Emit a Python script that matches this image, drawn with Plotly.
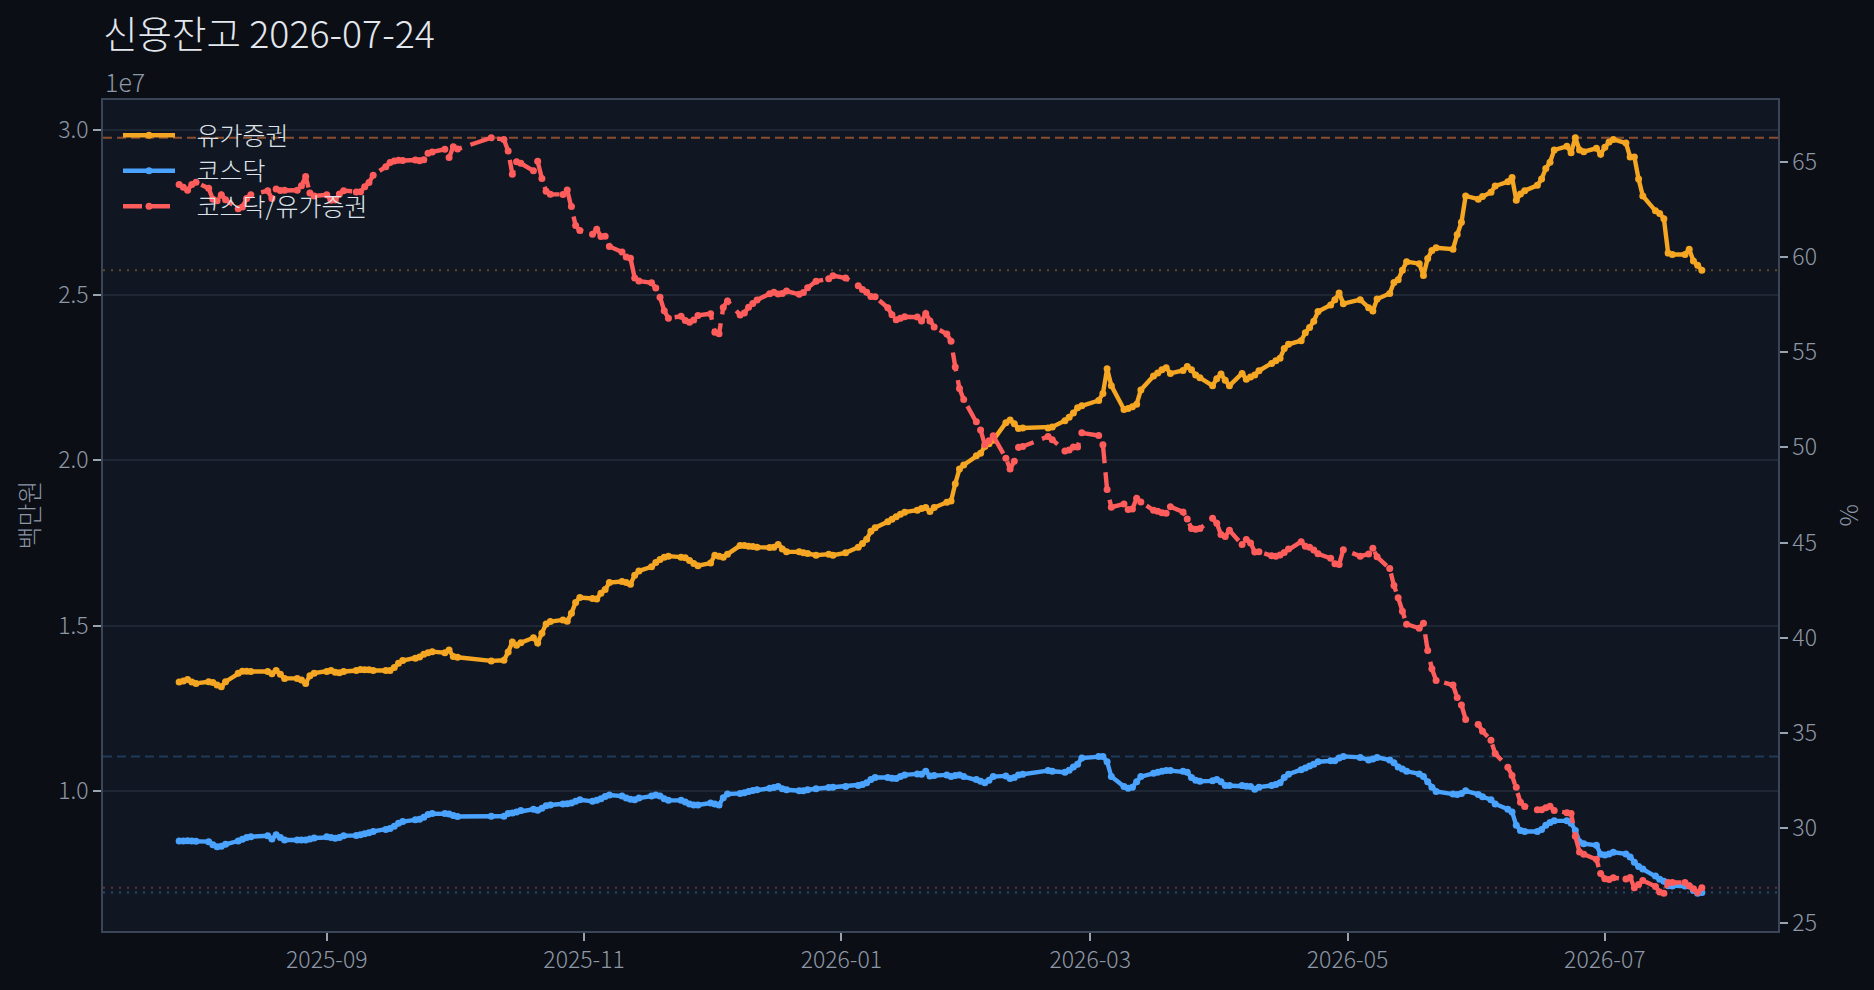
import pandas as pd
import plotly.graph_objects as go

TITLE = "신용잔고 2026-07-24"
START, END = "2025-07-28", "2026-07-24"
HOLIDAYS = ["2025-08-15", "2025-10-03", "2025-10-06", "2025-10-07", "2025-10-08",
            "2025-10-09", "2025-12-25", "2025-12-31", "2026-01-01", "2026-02-16",
            "2026-02-17", "2026-02-18", "2026-03-02", "2026-05-01", "2026-05-05",
            "2026-05-25", "2026-06-03"]

# 유가증권 신용잔고 (조원 = 1e6 백만원), one value per trading day, grouped by week
KOSPI = [
    13.29, 13.32, 13.37, 13.29, 13.25,
    13.30, 13.28, 13.20, 13.15, 13.30,
    13.56, 13.62, 13.62, 13.61,
    13.61, 13.54, 13.64, 13.53, 13.40,
    13.40, 13.35, 13.25, 13.48, 13.56,
    13.61, 13.64, 13.59, 13.57, 13.61,
    13.64, 13.67, 13.66, 13.66, 13.64,
    13.64, 13.64, 13.73, 13.86, 13.94,
    14.01, 14.05, 14.13, 14.18, 14.21,
    14.18, 14.26, 14.06, 14.04,
    13.93,
    13.95, 14.20, 14.50, 14.40, 14.48,
    14.63, 14.47, 14.77, 15.05, 15.12,
    15.17, 15.13, 15.37, 15.70, 15.85,
    15.82, 15.80, 15.98, 16.09, 16.30,
    16.33, 16.30, 16.25, 16.52, 16.65,
    16.78, 16.91, 17.00, 17.07, 17.10,
    17.07, 17.05, 16.97, 16.88, 16.81,
    16.89, 17.13, 17.10, 17.07, 17.16,
    17.42, 17.42, 17.40, 17.39, 17.37,
    17.36, 17.37, 17.45, 17.32, 17.23,
    17.23, 17.20, 17.18, 17.13,
    17.16, 17.13, 17.20,
    17.37, 17.48, 17.61, 17.85, 17.96,
    18.14, 18.22, 18.29, 18.37, 18.43,
    18.49, 18.54, 18.57, 18.45, 18.57,
    18.73, 18.77, 19.29, 19.74, 19.86,
    20.14, 20.21, 20.42, 20.50, 20.61,
    21.14, 21.22, 21.11, 20.96, 20.98,
    20.98, 21.01,
    21.20, 21.30, 21.43, 21.59, 21.65,
    21.81, 22.02, 22.77, 22.26,
    21.54, 21.57, 21.62, 21.70, 22.13,
    22.55, 22.64, 22.74, 22.80, 22.63,
    22.72, 22.84, 22.74, 22.58, 22.50,
    22.26, 22.47, 22.61, 22.42, 22.26,
    22.63, 22.45, 22.52, 22.58, 22.71,
    22.93, 23.01, 23.09, 23.38, 23.51,
    23.62, 23.86, 24.02, 24.21, 24.50,
    24.70, 24.86, 25.06, 24.74,
    24.86, 24.62, 24.52, 24.88,
    25.05, 25.38, 25.46, 25.75, 26.01,
    25.95, 25.59, 26.11, 26.35, 26.43,
    26.39, 26.83, 27.20, 28.00,
    27.90, 27.98, 28.11, 28.30,
    28.43, 28.56, 27.87, 28.06, 28.16,
    28.32, 28.51, 28.83, 29.02, 29.39,
    29.50, 29.31, 29.76, 29.39, 29.34,
    29.44, 29.26, 29.47, 29.63, 29.71,
    29.60, 29.18, 29.18, 28.51, 28.00,
    27.55, 27.47, 27.31, 26.27, 26.23,
    26.23, 26.39, 26.03, 25.90, 25.75,
]

# 코스닥 신용잔고 (조원)
KOSDAQ = [
    8.48, 8.48, 8.49, 8.48, 8.47,
    8.46, 8.37, 8.31, 8.32, 8.38,
    8.48, 8.53, 8.59, 8.61,
    8.64, 8.54, 8.67, 8.59, 8.51,
    8.51, 8.51, 8.51, 8.54, 8.57,
    8.61, 8.59, 8.56, 8.59, 8.64,
    8.65, 8.67, 8.70, 8.73, 8.77,
    8.83, 8.86, 8.93, 9.02, 9.07,
    9.12, 9.14, 9.20, 9.28, 9.31,
    9.31, 9.30, 9.25, 9.22,
    9.23,
    9.23, 9.31, 9.33, 9.36, 9.40,
    9.44, 9.41, 9.47, 9.55, 9.57,
    9.60, 9.61, 9.63, 9.68, 9.73,
    9.68, 9.71, 9.76, 9.83, 9.87,
    9.84, 9.78, 9.74, 9.73, 9.78,
    9.84, 9.87, 9.84, 9.76, 9.71,
    9.71, 9.66, 9.60, 9.57, 9.57,
    9.63, 9.60, 9.57, 9.79, 9.90,
    9.92, 9.94, 9.98, 10.01, 10.03,
    10.08, 10.10, 10.13, 10.06, 10.03,
    10.00, 10.00, 10.03, 10.06,
    10.10, 10.11, 10.13,
    10.16, 10.19, 10.24, 10.34, 10.40,
    10.40, 10.38, 10.37, 10.43, 10.48,
    10.51, 10.50, 10.59, 10.45, 10.46,
    10.48, 10.43, 10.46, 10.48, 10.43,
    10.34, 10.29, 10.24, 10.32, 10.43,
    10.45, 10.37, 10.40, 10.48, 10.50,
    10.61, 10.59,
    10.56, 10.62, 10.72, 10.80, 10.99,
    11.04, 11.04, 10.88, 10.43,
    10.13, 10.08, 10.11, 10.27, 10.43,
    10.53, 10.56, 10.59, 10.61, 10.61,
    10.59, 10.56, 10.40, 10.32, 10.29,
    10.30, 10.34, 10.27, 10.16, 10.16,
    10.16, 10.14, 10.13, 10.05, 10.11,
    10.16, 10.19, 10.24, 10.40, 10.50,
    10.64, 10.69, 10.75, 10.80, 10.88,
    10.91, 10.91, 10.99, 11.04,
    11.01, 10.93, 10.96, 11.01,
    10.93, 10.85, 10.72, 10.66, 10.59,
    10.51, 10.43, 10.27, 10.11, 9.98,
    9.90, 9.89, 9.92, 10.00,
    9.89, 9.82, 9.73, 9.60,
    9.44, 9.36, 8.96, 8.80, 8.77,
    8.77, 8.83, 8.96, 9.04, 9.09,
    9.09, 9.02, 8.80, 8.45, 8.40,
    8.35, 8.08, 8.06, 8.09, 8.14,
    8.09, 8.00, 7.84, 7.71, 7.63,
    7.42, 7.32, 7.26, 7.13, 7.12,
    7.12, 7.12, 6.98, 6.90, 6.92,
]

LEFT_TICKS = [1.0, 1.5, 2.0, 2.5, 3.0]          # x 1e7 백만원
RIGHT_TICKS = [25, 30, 35, 40, 45, 50, 55, 60, 65]
X_TICKS = ["2025-09-01", "2025-11-01", "2026-01-01", "2026-03-01", "2026-05-01", "2026-07-01"]

ORANGE, BLUE, RED = "#f5a623", "#4aa3ff", "#ff5c5c"
BG, PLOT_BG = "#0b0e14", "#111722"
GRID, SPINE, TICK_TXT = "#1f2735", "#3a4558", "#8d97a6"
FONT = "Noto Sans CJK KR"
W, H = 1874, 990
ML, MR, MT, MB = 103, 96, 100, 59

dates = [d for d in pd.bdate_range(START, END) if d.strftime("%Y-%m-%d") not in HOLIDAYS]
assert len(dates) == len(KOSPI) == len(KOSDAQ), (len(dates), len(KOSPI), len(KOSDAQ))

kospi = [v * 1e6 for v in KOSPI]     # 백만원
kosdaq = [v * 1e6 for v in KOSDAQ]
ratio = [b / a * 100 for a, b in zip(KOSPI, KOSDAQ)]


def pad_range(vals, frac=0.05):
    lo, hi = min(vals), max(vals)
    m = (hi - lo) * frac
    return [lo - m, hi + m]


yl = pad_range(kospi + kosdaq)
yr = pad_range(ratio)
x0, x1 = dates[0], dates[-1]
xm = (x1 - x0) * 0.05
xr = [x0 - xm, x1 + xm]

LW, MS = 4.4, 7
PAD = "\u00a0\u00a0\u00a0"
fig = go.Figure()
fig.add_trace(go.Scatter(x=dates, y=kospi, name=PAD + "유가증권", mode="lines+markers",
                         line=dict(color=ORANGE, width=LW), marker=dict(color=ORANGE, size=MS),
                         legendgroup="a"))
fig.add_trace(go.Scatter(x=dates, y=kosdaq, name=PAD + "코스닥", mode="lines+markers",
                         line=dict(color=BLUE, width=LW), marker=dict(color=BLUE, size=MS),
                         legendgroup="b"))
fig.add_trace(go.Scatter(x=dates, y=ratio, name=PAD + "코스닥/유가증권", mode="lines+markers",
                         yaxis="y2", line=dict(color=RED, width=LW, dash="19px,9px"),
                         marker=dict(color=RED, size=MS), legendgroup="c"))


def hline(y, yref, color, dash):
    fig.add_shape(type="line", xref="paper", x0=0, x1=1, yref=yref, y0=y, y1=y,
                  line=dict(color=color, width=2, dash=dash), layer="between")


DASH, DOT = "9px,5px", "2px,6px"
hline(max(kospi), "y", "rgba(245,166,35,0.35)", DASH)
hline(kospi[-1], "y", "rgba(245,166,35,0.35)", DOT)
hline(max(kosdaq), "y", "rgba(74,163,255,0.25)", DASH)
hline(kosdaq[-1], "y", "rgba(74,163,255,0.35)", DOT)
hline(max(ratio), "y2", "rgba(255,92,92,0.25)", DASH)
hline(ratio[-1], "y2", "rgba(255,92,92,0.35)", DOT)

TXT_W = 300
axis_common = dict(ticks="outside", ticklen=8, tickwidth=1.5, tickcolor="#9aa3b0",
                   tickfont=dict(size=23, color=TICK_TXT, family=FONT, weight=TXT_W),
                   showline=True, linecolor=SPINE, linewidth=1.5, zeroline=False)

fig.update_layout(
    width=W, height=H,
    margin=dict(l=ML, r=MR, t=MT, b=MB),
    paper_bgcolor=BG, plot_bgcolor=PLOT_BG,
    font=dict(family=FONT, color=TICK_TXT),
    title=dict(text=TITLE, x=0, xref="paper", xanchor="left", y=1 - 35 / H, yref="container",
               yanchor="middle", font=dict(size=37.5, color="#e3e7ee", family=FONT, weight=TXT_W)),
    xaxis=dict(type="date", range=xr, tickvals=X_TICKS, tickformat="%Y-%m", showgrid=False,
               mirror=True, **axis_common),
    yaxis=dict(range=yl, tickvals=[t * 1e7 for t in LEFT_TICKS],
               ticktext=[f"{t:.1f}" for t in LEFT_TICKS], showgrid=True, gridcolor=GRID,
               gridwidth=1.5, **axis_common),
    yaxis2=dict(range=yr, overlaying="y", side="right", tickvals=RIGHT_TICKS,
                showgrid=False, **axis_common),
    legend=dict(x=(118 - ML) / (W - ML - MR), y=0.985, xanchor="left", yanchor="top",
                bgcolor="rgba(0,0,0,0)", traceorder="grouped", tracegroupgap=0, itemwidth=52,
                font=dict(size=25, color="#dfe4ea", family=FONT, weight=TXT_W)),
    showlegend=True,
)

lab_font = dict(size=25, color=TICK_TXT, family=FONT, weight=TXT_W)
fig.add_annotation(text="1e7", xref="paper", yref="paper", x=0, y=1, xanchor="left",
                   yanchor="bottom", yshift=-1, showarrow=False, font=lab_font)
fig.add_annotation(text="백만원", xref="paper", yref="paper", x=(27 - ML) / (W - ML - MR), y=0.5,
                   xanchor="center", yanchor="middle", textangle=-90, showarrow=False,
                   font=lab_font)
fig.add_annotation(text="%", xref="paper", yref="paper", x=1 + (1846 - (W - MR)) / (W - ML - MR),
                   y=0.5, xanchor="center", yanchor="middle", textangle=-90, showarrow=False,
                   font=lab_font)

fig.write_html("out.html", config={"displayModeBar": False},
               post_script="document.body.style.margin='0';document.body.style.background='%s';" % BG)
